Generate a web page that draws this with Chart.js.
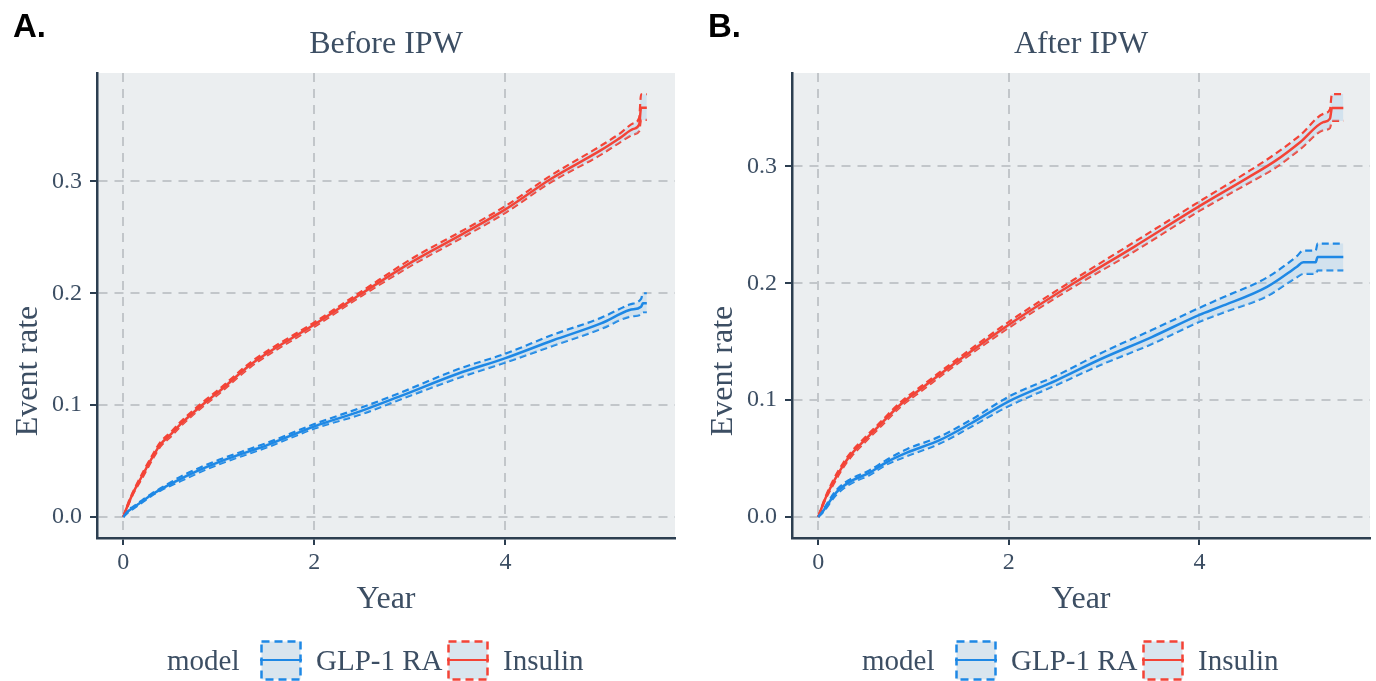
<!DOCTYPE html>
<html>
<head>
<meta charset="utf-8">
<script src="https://cdn.jsdelivr.net/npm/chart.js@4.4.1/dist/chart.umd.min.js"></script>
<style>
  html, body { margin:0; padding:0; background:#fff; }
  body { width:1376px; height:681px; position:relative; overflow:hidden; font-family:"Liberation Serif", serif; color:#3C4E63; }
  .panel { position:absolute; top:0; width:688px; height:681px; }
  .tag { position:absolute; top:9px; font-family:"Liberation Sans", Arial, sans-serif; font-weight:bold; font-size:33px; line-height:33px; color:#000; }
  .lg { position:absolute; top:640px; height:40px; line-height:40px; font-size:29px; white-space:nowrap; }
  .key { position:absolute; top:640px; width:42px; height:41px; }
</style>
</head>
<body>
<div class="panel" style="left:0"><canvas id="cA" width="688" height="681"></canvas></div>
<div class="panel" style="left:688px"><canvas id="cB" width="688" height="681"></canvas></div>
<div class="tag" style="left:13px">A.</div>
<div class="tag" style="left:708px">B.</div>

<div class="lg" style="left:167px">model</div>
<svg class="key" style="left:260px" viewBox="0 0 42 41"><rect x="1.5" y="1.5" width="39" height="38" fill="#D9E5EE" stroke="#1E88E5" stroke-width="2.5" stroke-dasharray="8 5"/><line x1="0" y1="20" x2="42" y2="20" stroke="#1E88E5" stroke-width="2.2"/></svg>
<div class="lg" style="left:316px">GLP-1 RA</div>
<svg class="key" style="left:447px" viewBox="0 0 42 41"><rect x="1.5" y="1.5" width="39" height="38" fill="#D9E5EE" stroke="#F44336" stroke-width="2.5" stroke-dasharray="8 5"/><line x1="0" y1="20" x2="42" y2="20" stroke="#F44336" stroke-width="2.2"/></svg>
<div class="lg" style="left:503px">Insulin</div>

<div class="lg" style="left:862px">model</div>
<svg class="key" style="left:955px" viewBox="0 0 42 41"><rect x="1.5" y="1.5" width="39" height="38" fill="#D9E5EE" stroke="#1E88E5" stroke-width="2.5" stroke-dasharray="8 5"/><line x1="0" y1="20" x2="42" y2="20" stroke="#1E88E5" stroke-width="2.2"/></svg>
<div class="lg" style="left:1011px">GLP-1 RA</div>
<svg class="key" style="left:1142px" viewBox="0 0 42 41"><rect x="1.5" y="1.5" width="39" height="38" fill="#D9E5EE" stroke="#F44336" stroke-width="2.5" stroke-dasharray="8 5"/><line x1="0" y1="20" x2="42" y2="20" stroke="#F44336" stroke-width="2.2"/></svg>
<div class="lg" style="left:1198px">Insulin</div>

<script>
// ---------- Data ----------
const panelTitles = ["Before IPW", "After IPW"];
const seriesNames = ["GLP-1 RA", "Insulin"];
const xTicks = [0, 2, 4];
const yTicks = [0, 0.1, 0.2, 0.3];

// Panel A: Before IPW
const yearsInsulinA = [0, 0.05, 0.1, 0.2, 0.31, 0.39, 0.5, 0.6, 0.81, 1, 1.33, 1.5, 2, 2.5, 3.04, 3.53, 4, 4.47, 5, 5.2, 5.34, 5.4, 5.42, 5.48];
const insulinA   = [0, 0.011, 0.021, 0.037, 0.054, 0.065, 0.074, 0.083, 0.099, 0.112, 0.136, 0.146, 0.172, 0.200, 0.229, 0.252, 0.275, 0.302, 0.328, 0.339, 0.347, 0.351, 0.366, 0.366];
const insulinALo = [0, 0.010, 0.020, 0.035, 0.052, 0.063, 0.072, 0.081, 0.097, 0.110, 0.134, 0.144, 0.170, 0.198, 0.226, 0.249, 0.272, 0.299, 0.324, 0.335, 0.342, 0.345, 0.355, 0.355];
const insulinAHi = [0, 0.012, 0.022, 0.039, 0.056, 0.067, 0.076, 0.085, 0.101, 0.114, 0.138, 0.148, 0.174, 0.202, 0.232, 0.255, 0.278, 0.305, 0.332, 0.343, 0.352, 0.357, 0.378, 0.378];

const yearsGlpA = [0, 0.05, 0.1, 0.2, 0.3, 0.4, 0.6, 0.8, 1, 1.33, 1.5, 2, 2.5, 2.9, 3.5, 4, 4.5, 5, 5.3, 5.42, 5.44, 5.48];
const glpA   = [0, 0.005, 0.008, 0.014, 0.020, 0.025, 0.034, 0.042, 0.049, 0.059, 0.064, 0.081, 0.095, 0.108, 0.128, 0.142, 0.158, 0.173, 0.185, 0.188, 0.191, 0.191];
const glpALo = [0, 0.004, 0.007, 0.013, 0.019, 0.024, 0.032, 0.040, 0.047, 0.057, 0.062, 0.079, 0.092, 0.105, 0.124, 0.138, 0.153, 0.168, 0.179, 0.181, 0.183, 0.183];
const glpAHi = [0, 0.006, 0.009, 0.015, 0.021, 0.026, 0.036, 0.044, 0.051, 0.061, 0.066, 0.083, 0.098, 0.111, 0.132, 0.146, 0.163, 0.178, 0.190, 0.195, 0.200, 0.200];

// Panel B: After IPW
const yearsInsulinB = [0, 0.07, 0.16, 0.26, 0.35, 0.49, 0.65, 0.86, 1.1, 1.39, 2, 2.68, 3.31, 4, 4.5, 4.8, 5.06, 5.3, 5.37, 5.39, 5.51];
const insulinB   = [0, 0.015, 0.030, 0.044, 0.054, 0.066, 0.079, 0.096, 0.111, 0.129, 0.1645, 0.200, 0.231, 0.266, 0.290, 0.305, 0.321, 0.338, 0.341, 0.350, 0.350];
const insulinBLo = [0, 0.014, 0.028, 0.042, 0.052, 0.064, 0.077, 0.094, 0.109, 0.127, 0.162, 0.197, 0.227, 0.262, 0.285, 0.299, 0.315, 0.331, 0.333, 0.339, 0.339];
const insulinBHi = [0, 0.016, 0.032, 0.046, 0.056, 0.068, 0.081, 0.098, 0.113, 0.131, 0.167, 0.203, 0.235, 0.270, 0.295, 0.311, 0.327, 0.345, 0.349, 0.362, 0.362];

const yearsGlpB = [0, 0.05, 0.19, 0.33, 0.54, 0.72, 0.93, 1.28, 1.6, 2, 2.5, 2.96, 3.5, 4, 4.22, 4.71, 5.02, 5.09, 5.22, 5.24, 5.51];
const glpB   = [0, 0.005, 0.021, 0.030, 0.038, 0.047, 0.055, 0.066, 0.080, 0.099, 0.117, 0.135, 0.154, 0.173, 0.180, 0.197, 0.214, 0.218, 0.218, 0.2225, 0.2225];
const glpBLo = [0, 0.004, 0.019, 0.028, 0.036, 0.045, 0.052, 0.063, 0.077, 0.095, 0.113, 0.130, 0.148, 0.167, 0.174, 0.189, 0.205, 0.208, 0.208, 0.211, 0.211];
const glpBHi = [0, 0.006, 0.023, 0.032, 0.040, 0.049, 0.058, 0.069, 0.083, 0.103, 0.121, 0.140, 0.160, 0.179, 0.187, 0.205, 0.223, 0.228, 0.228, 0.234, 0.234];

// ---------- Styling ----------
const BLUE = '#1E88E5', RED = '#F44336';
const BAND = 'rgba(160,203,234,0.32)';
const TXT = '#3C4E63', AXIS = '#2C3E50', GRID = '#C2C6CA';
const SERIF = '"Liberation Serif", "Times New Roman", serif';

function pts(xs, ys) { return xs.map((x, i) => ({ x: x, y: ys[i] })); }

function seriesSets(name, color, xs, ys, lo, hi) {
  const common = { xAxisID: 'x', yAxisID: 'y', pointRadius: 0, cubicInterpolationMode: 'monotone', borderColor: color };
  return [
    Object.assign({}, common, { label: name + ' lower', order: 3, data: pts(xs, lo), borderWidth: 2.2, borderDash: [7, 4], fill: false }),
    Object.assign({}, common, { label: name + ' upper', order: 2, data: pts(xs, hi), borderWidth: 2.2, borderDash: [7, 4], fill: '-1', backgroundColor: BAND }),
    Object.assign({}, common, { label: name, order: 1, data: pts(xs, ys), borderWidth: 2.5, fill: false })
  ];
}

const panelBg = {
  id: 'panelBg',
  beforeDraw(chart) {
    const { ctx, chartArea: a } = chart;
    ctx.save();
    ctx.fillStyle = '#EBEEF0';
    ctx.fillRect(a.left, a.top, a.right - a.left, a.bottom - a.top);
    ctx.restore();
  }
};

// y-axis title, drawn on the Chart.js canvas at the reference's position
const yAxisTitle = {
  id: 'yAxisTitle',
  afterDraw(chart, args, opts) {
    const ctx = chart.ctx;
    ctx.save();
    ctx.translate(opts.x, opts.y);
    ctx.rotate(-Math.PI / 2);
    ctx.font = '32px ' + SERIF;
    ctx.fillStyle = TXT;
    ctx.textAlign = 'center';
    ctx.textBaseline = 'middle';
    ctx.fillText(opts.text, 0, 0);
    ctx.restore();
  }
};

function makePanel(id, title, datasets, o) {
  return new Chart(document.getElementById(id), {
    type: 'line',
    data: { datasets: datasets },
    plugins: [panelBg, yAxisTitle],
    options: {
      responsive: false,
      devicePixelRatio: 1,
      animation: false,
      layout: { padding: { left: 0, right: o.padRight, top: 0, bottom: 53 } },
      plugins: {
        legend: { display: false }, tooltip: { enabled: false },
        yAxisTitle: { text: 'Event rate', x: o.yTitleX, y: 371 }
      },
      scales: {
        x: {
          type: 'linear', position: 'bottom', min: o.xMin, max: o.xMax,
          afterBuildTicks: s => { s.ticks = xTicks.map(v => ({ value: v })); },
          afterFit: s => { s.height = 90; },
          grid: { color: GRID, lineWidth: 2, tickColor: AXIS, tickLength: 7, tickWidth: 2 },
          border: { color: AXIS, width: 2.5, dash: [9, 7] },
          ticks: { color: TXT, padding: 3, font: { family: SERIF, size: 24 }, callback: v => String(v), maxRotation: 0 },
          title: { display: true, text: 'Year', color: TXT, font: { family: SERIF, size: 32 }, padding: { top: 0, bottom: 9 } }
        },
        xTop: {
          type: 'linear', position: 'top', min: 0, max: 1,
          afterFit: s => { s.height = 73; },
          grid: { display: false, drawTicks: false },
          border: { display: false },
          ticks: { display: false },
          title: { display: true, text: title, color: TXT, font: { family: SERIF, size: 32 }, padding: { top: 25, bottom: 0 } }
        },
        y: {
          type: 'linear', position: 'left', min: o.yMin, max: o.yMax,
          afterBuildTicks: s => { s.ticks = yTicks.map(v => ({ value: v })); },
          afterFit: s => { s.width = o.yWidth; },
          grid: { color: GRID, lineWidth: 2, tickColor: AXIS, tickLength: 7, tickWidth: 2 },
          border: { color: AXIS, width: 2.5, dash: [9, 7] },
          ticks: { color: TXT, padding: 8, font: { family: SERIF, size: 24 }, callback: v => Number(v).toFixed(1) },
          title: { display: false }
        }
      }
    }
  });
}

makePanel('cA', panelTitles[0],
  [].concat(seriesSets(seriesNames[0], BLUE, yearsGlpA, glpA, glpALo, glpAHi),
            seriesSets(seriesNames[1], RED, yearsInsulinA, insulinA, insulinALo, insulinAHi)),
  { xMin: -0.275, xMax: 5.775, yMin: -0.0189, yMax: 0.397, yWidth: 97, padRight: 13, yTitleX: 29 });

makePanel('cB', panelTitles[1],
  [].concat(seriesSets(seriesNames[0], BLUE, yearsGlpB, glpB, glpBLo, glpBHi),
            seriesSets(seriesNames[1], RED, yearsInsulinB, insulinB, insulinBLo, insulinBHi)),
  { xMin: -0.2755, xMax: 5.79, yMin: -0.018, yMax: 0.380, yWidth: 104, padRight: 6, yTitleX: 36 });
</script>
</body>
</html>
